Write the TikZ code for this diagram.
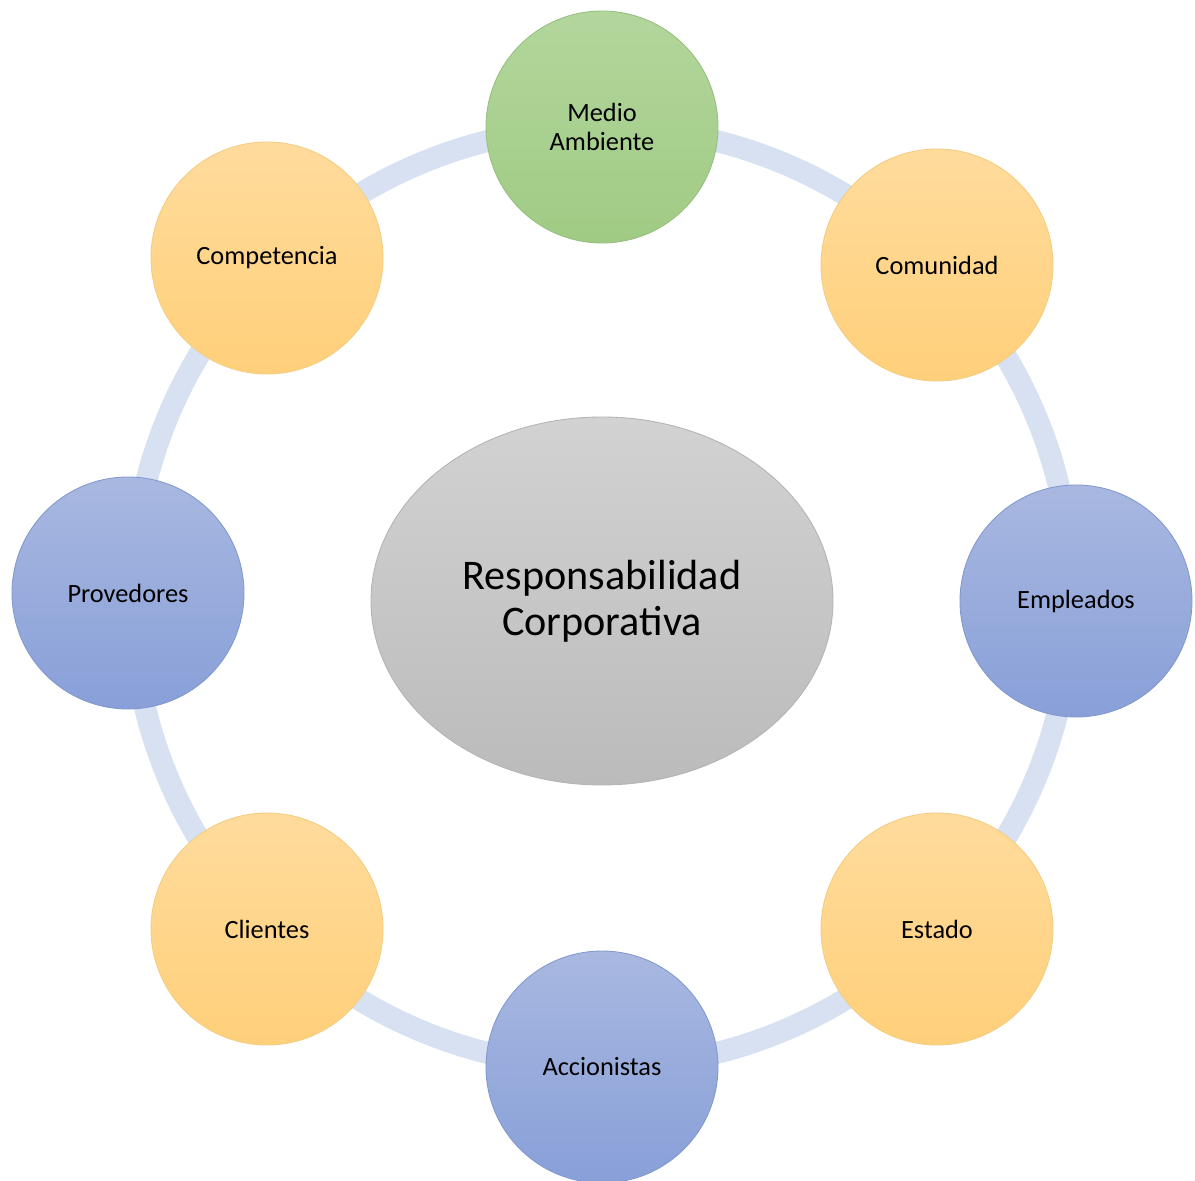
\documentclass[tikz,border=0pt]{standalone}
\usepackage{fontspec}
\setmainfont{Carlito}
\usepackage{tikz}
\usetikzlibrary{shapes.geometric}

\definecolor{RingBlue}{HTML}{D7E1F1}
\definecolor{OrangeTop}{HTML}{FFDB9C}
\definecolor{OrangeBot}{HTML}{FFD07A}
\definecolor{OrangeLine}{HTML}{F3CD82}
\definecolor{GreenTop}{HTML}{B2D69C}
\definecolor{GreenBot}{HTML}{A0CB84}
\definecolor{GreenLine}{HTML}{98BF80}
\definecolor{BlueTop}{HTML}{A8B8E0}
\definecolor{BlueBot}{HTML}{889FD8}
\definecolor{BlueLine}{HTML}{8399CE}
\definecolor{GrayTop}{HTML}{D2D2D2}
\definecolor{GrayBot}{HTML}{BBBBBB}
\definecolor{GrayLine}{HTML}{B4B4B4}

\begin{document}
\begin{tikzpicture}[x=0.2mm, y=-0.2mm,
    actor/.style={circle, minimum size=46.4mm, inner sep=0pt, align=center,
      line width=0.5pt, font=\fontsize{15}{17}\selectfont},
    orangeactor/.style={actor, top color=OrangeTop, bottom color=OrangeBot, draw=OrangeLine},
    greenactor/.style={actor, top color=GreenTop, bottom color=GreenBot, draw=GreenLine},
    blueactor/.style={actor, top color=BlueTop, bottom color=BlueBot, draw=BlueLine}]
    \useasboundingbox (0, 0) rectangle (1195, 1181);
    \begin{scope} % Ring
      \coordinate (hub) at (602, 597);
      \draw [RingBlue, line width=4.4mm] (hub) circle [radius=94mm];
    \end{scope}
    \begin{scope} % Centre
      \node [ellipse, minimum width=92.4mm, minimum height=73.6mm, inner sep=0pt,
        top color=GrayTop, bottom color=GrayBot, draw=GrayLine, line width=0.5pt,
        align=center, font=\fontsize{24}{26}\selectfont] (rc) at (602, 601)
        {Responsabilidad\\Corporativa};
    \end{scope}
    \begin{scope} % Stakeholders
      \node [greenactor] (medio) at (602, 127) {Medio\\Ambiente};
      \node [orangeactor] (comunidad) at (937, 265) {Comunidad};
      \node [blueactor] (empleados) at (1076, 601) {Empleados};
      \node [orangeactor] (estado) at (937, 929) {Estado};
      \node [blueactor] (accionistas) at (602, 1067) {Accionistas};
      \node [orangeactor] (clientes) at (267, 929) {Clientes};
      \node [blueactor] (provedores) at (128, 593) {Provedores};
      \node [orangeactor] (competencia) at (267, 258) {Competencia};
    \end{scope}
\end{tikzpicture}
\end{document}
